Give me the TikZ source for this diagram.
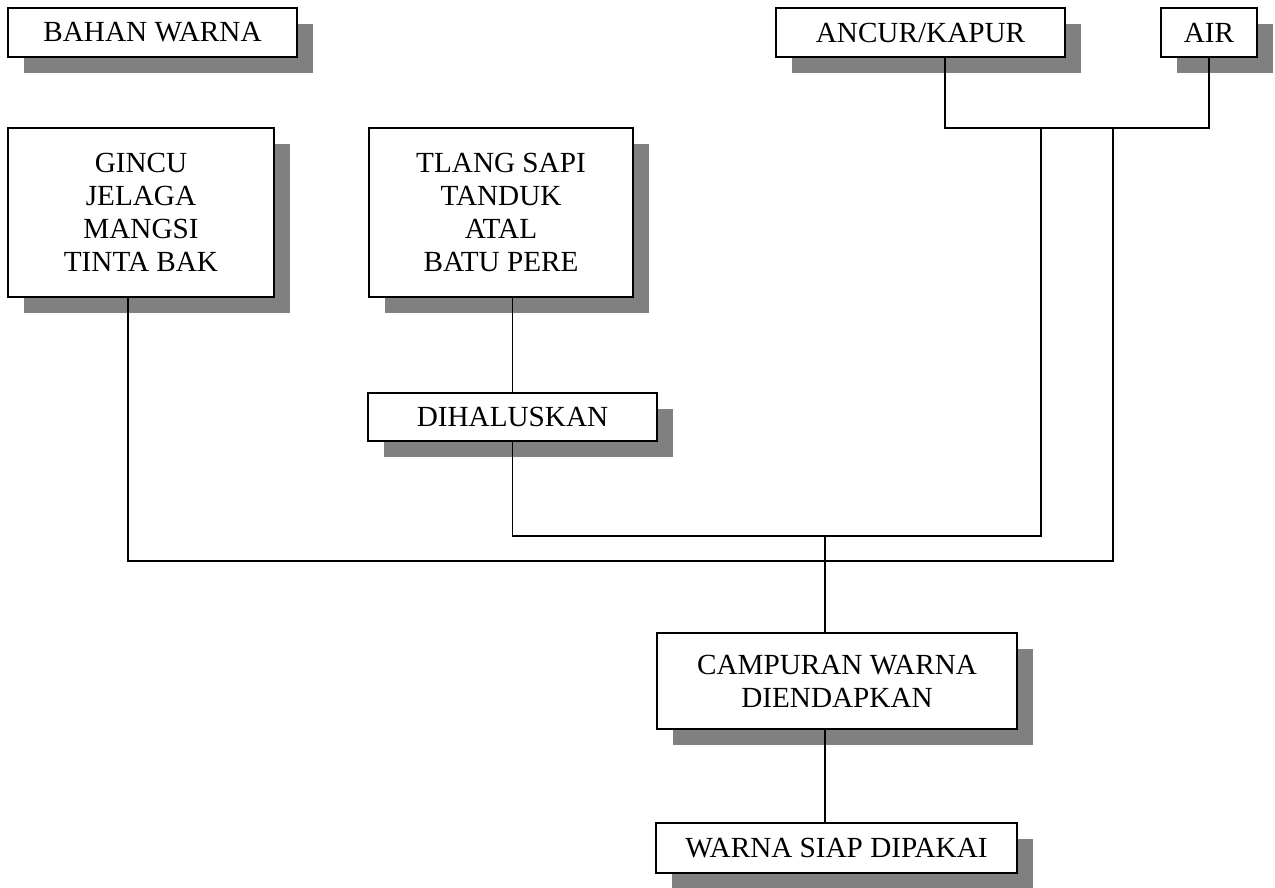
\documentclass[tikz,border=0pt]{standalone}
\usepackage{fontspec}
\setmainfont{Liberation Serif}
\usepackage{tikz}
\usetikzlibrary{positioning, calc, shadows}

\tikzset{
    box/.style={draw, line width=1pt, fill=white, rectangle, inner sep=0pt, align=center,
        font=\fontsize{14.6}{16.6}\selectfont,
        drop shadow={shadow xshift=8pt, shadow yshift=-8pt, fill=black!50, opacity=1}},
    link/.style={line width=0.8pt}
}

\begin{document}
\begin{tikzpicture}[x=0.5pt, y=-0.5pt]
    \useasboundingbox (0,0) rectangle (1275,888);

    % Boxes
    \node[box, minimum width=144.5pt, minimum height=24.5pt] (bahan) at (152.5,32.5) {BAHAN WARNA};
    \node[box, minimum width=144.5pt, minimum height=24.5pt] (ancur) at (920.5,32.5) {ANCUR/KAPUR};
    \node[box, minimum width=48pt, minimum height=24.5pt] (air) at (1209,32.5) {AIR};
    \node[box, minimum width=133pt, minimum height=84.5pt] (gincu) at (141,212.5) {GINCU\\JELAGA\\MANGSI\\TINTA BAK};
    \node[box, minimum width=132pt, minimum height=84.5pt] (tlang) at (501,212.5) {TLANG SAPI\\TANDUK\\ATAL\\BATU PERE};
    \node[box, minimum width=144.5pt, minimum height=24pt] (halus) at (512.5,417) {DIHALUSKAN};
    \node[box, minimum width=180pt, minimum height=48pt] (campur) at (837,681) {CAMPURAN WARNA\\DIENDAPKAN};
    \node[box, minimum width=180.5pt, minimum height=25pt] (siap) at (836.5,848) {WARNA SIAP DIPAKAI};

    % Junction points
    \coordinate (hA) at (945,128);
    \coordinate (hB) at (1041,128);
    \coordinate (hC) at (1113,128);
    \coordinate (mix) at (825,536);
    \coordinate (low) at (128,561);

    % Connectors
    \draw[link] (hA |- ancur.south) -- (hA) -- (air.south |- hA) -- (air.south);
    \draw[link] (tlang.south -| halus.north) -- (halus.north);
    \draw[link] (hB) -- (hB |- mix) -- (halus.south |- mix) -- (halus.south);
    \draw[link] (hC) -- (hC |- low) -- (low) -- (low |- gincu.south);
    \draw[link] (mix) -- (mix |- campur.north);
    \draw[link] (mix |- campur.south) -- (mix |- siap.north);

\end{tikzpicture}
\end{document}
